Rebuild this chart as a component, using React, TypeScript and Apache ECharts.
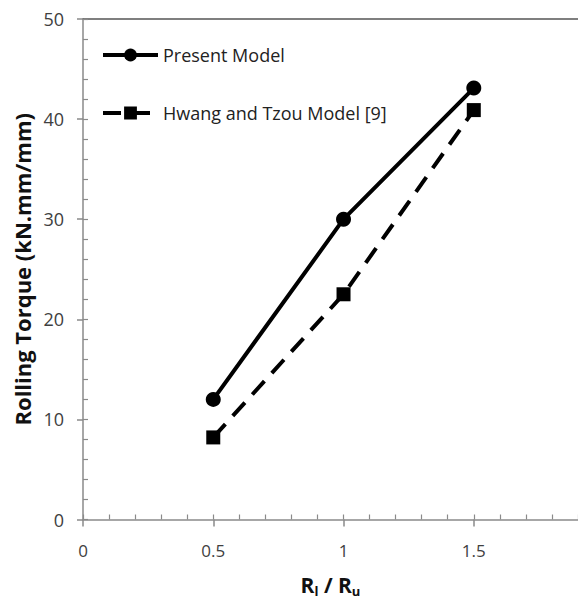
import React, { useEffect, useRef } from "react";
import * as echarts from "echarts";

const xValues = [0.5, 1, 1.5];
const presentModel = [12, 30, 43.1];
const hwangTzouModel = [8.2, 22.5, 40.9];
const seriesNames = ["Present Model", "Hwang and Tzou Model [9]"];
const yTitle = "Rolling Torque (kN.mm/mm)";

const FONT = "'Open Sans', 'Liberation Sans', sans-serif";

export default function App() {
  const ref = useRef<HTMLDivElement>(null);
  useEffect(() => {
    if (!ref.current) return;
    const chart = echarts.init(ref.current, undefined, { renderer: "svg" });
    const xMin = 0, xMax = 1.9, yMin = 0, yMax = 50;
    const axisGray = "#8a8a8a";
    chart.setOption({
      animation: false,
      backgroundColor: "#ffffff",
      grid: { left: 83, top: 19, bottom: 81, right: -6, containLabel: false },
      legend: {
        orient: "vertical",
        left: 96,
        top: 39,
        itemWidth: 55,
        itemHeight: 16,
        itemGap: 36,
        data: seriesNames,
        lineStyle: { width: 4 },
        textStyle: { fontFamily: FONT, fontSize: 18, color: "#222", lineHeight: 22 },
      },
      xAxis: [
        {
          type: "value",
          position: "bottom",
          min: xMin,
          max: xMax,
          interval: 0.5,
          axisLine: { show: true, lineStyle: { color: axisGray, width: 1.5 } },
          axisTick: { show: true, inside: false, length: 7, lineStyle: { color: axisGray, width: 1.5 } },
          axisLabel: {
            fontFamily: FONT,
            fontSize: 17,
            color: "#404040",
            margin: 22,
            showMaxLabel: false,
          },
          splitLine: { show: false },
          name: "{b|R}{s|l}{b| / R}{s|u}",
          nameLocation: "middle",
          nameGap: 52,
          nameTextStyle: {
            rich: {
              b: { fontFamily: FONT, fontSize: 21, fontWeight: "bold", color: "#111", lineHeight: 26 },
              s: { fontFamily: FONT, fontSize: 13, fontWeight: "bold", color: "#111", lineHeight: 16, padding: [12, 0, 0, 0] },
            },
          },
        },
        {
          type: "value",
          position: "bottom",
          min: xMin,
          max: xMax,
          interval: 0.1,
          axisLine: { show: false },
          axisTick: { show: true, inside: true, length: 5, lineStyle: { color: axisGray, width: 1.2 } },
          axisLabel: { show: false },
          splitLine: { show: false },
        },
        {
          type: "value",
          position: "top",
          min: xMin,
          max: xMax,
          axisLine: { show: true, lineStyle: { color: "#555", width: 1.5 } },
          axisTick: { show: false },
          axisLabel: { show: false },
          splitLine: { show: false },
        },
      ],
      yAxis: [
        {
          type: "value",
          position: "left",
          min: yMin,
          max: yMax,
          interval: 10,
          axisLine: { show: true, lineStyle: { color: axisGray, width: 1.5 } },
          axisTick: { show: true, inside: false, length: 6, lineStyle: { color: axisGray, width: 1.5 } },
          axisLabel: { fontFamily: FONT, fontSize: 18, color: "#404040", margin: 19 },
          splitLine: { show: false },
          name: yTitle,
          nameLocation: "middle",
          nameGap: 50,
          nameTextStyle: { fontFamily: FONT, fontSize: 22, fontWeight: "bold", color: "#111" },
        },
        {
          type: "value",
          position: "left",
          min: yMin,
          max: yMax,
          interval: 2,
          axisLine: { show: false },
          axisTick: { show: true, inside: true, length: 5, lineStyle: { color: axisGray, width: 1.2 } },
          axisLabel: { show: false },
          splitLine: { show: false },
        },
      ],
      series: [
        {
          name: seriesNames[0],
          type: "line",
          xAxisIndex: 0,
          yAxisIndex: 0,
          data: xValues.map((x, i) => [x, presentModel[i]]),
          symbol: "circle",
          symbolSize: 15,
          lineStyle: { color: "#000", width: 4, type: "solid" },
          itemStyle: { color: "#000" },
        },
        {
          name: seriesNames[1],
          type: "line",
          xAxisIndex: 0,
          yAxisIndex: 0,
          data: xValues.map((x, i) => [x, hwangTzouModel[i]]),
          symbol: "rect",
          symbolSize: 14,
          lineStyle: { color: "#000", width: 4, type: [18, 11] },
          itemStyle: { color: "#000" },
        },
      ],
    });
    return () => chart.dispose();
  }, []);
  return (
    <div
      ref={ref}
      style={{ position: "fixed", left: 0, top: 0, width: 578, height: 602, background: "#fff" }}
    />
  );
}
